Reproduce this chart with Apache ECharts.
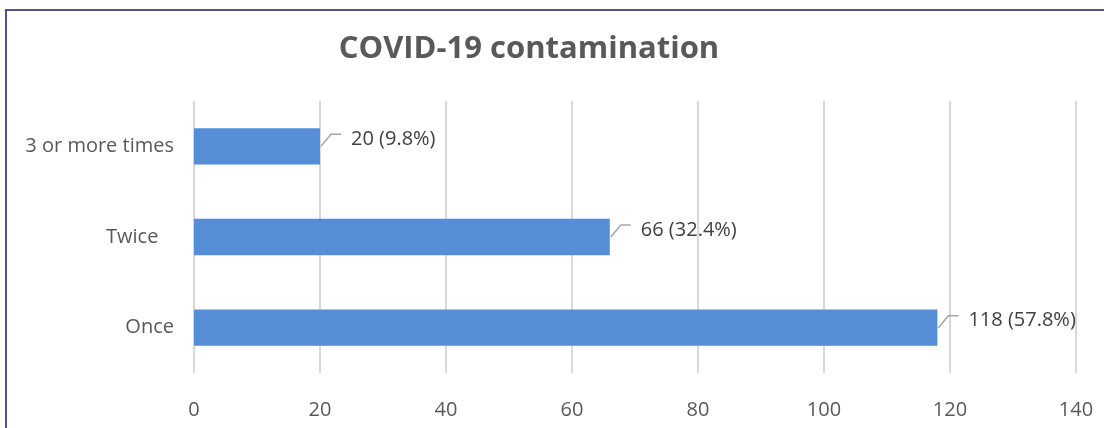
<!DOCTYPE html>
<html>
<head>
<meta charset="utf-8">
<script src="https://cdn.jsdelivr.net/npm/echarts@6/dist/echarts.min.js"></script>
<style>
    body { margin: 0; background: #fff; }
    #wrap { position: relative; width: 1104px; height: 428px; }
    #chart { width: 1104px; height: 428px; }
    .frame {
        position: absolute; left: 5px; top: 9px; right: 0; bottom: 0;
        border-top: 2px solid #54508f; border-left: 2px solid #54508f;
        pointer-events: none;
    }
</style>
</head>
<body>
<div id="wrap">
    <div id="chart"></div>
    <div class="frame"></div>
</div>
<script>
    // categories bottom -> top
    const categories = ['Once', 'Twice   ', '3 or more times']
    const counts = [118, 66, 20]
    const percents = ['57.8%', '32.4%', '9.8%']
    const xTicks = [0, 20, 40, 60, 80, 100, 120, 140]

    let myChart = echarts.init(document.getElementById('chart'))
    myChart.setOption({
        animation: false,
        textStyle: { fontFamily: '"Open Sans", sans-serif' },
        title: {
            text: 'COVID-19 contamination',
            left: 524,
            textAlign: 'center',
            top: 29,
            textStyle: { fontSize: 31, fontWeight: 'bold', color: '#595959' }
        },
        grid: { left: 194, right: 28, top: 101, bottom: 55 },
        xAxis: {
            type: 'value',
            min: xTicks[0],
            max: xTicks[xTicks.length - 1],
            interval: 20,
            axisLine: { show: false },
            axisTick: { show: false },
            axisLabel: { fontSize: 20, color: '#595959', margin: 27 },
            splitLine: { lineStyle: { color: '#d9d9d9', width: 2 } }
        },
        yAxis: {
            type: 'category',
            data: categories,
            axisLine: { show: false },
            axisTick: { show: false },
            axisLabel: { fontSize: 20, color: '#595959', margin: 20 }
        },
        series: [{
            type: 'bar',
            data: counts,
            barCategoryGap: '60%',
            itemStyle: { color: '#558ed5' },
            label: {
                show: true,
                position: 'right',
                distance: 5,
                fontSize: 20,
                color: '#404040',
                formatter: p => p.value + ' (' + percents[p.dataIndex] + ')'
            },
            labelLayout: { dx: 26, dy: -7 }
        }, {
            // leader lines, anchored at the end of each bar
            type: 'custom',
            data: counts.map((v, i) => [v, i]),
            encode: { x: 0, y: 1 },
            z: 3,
            renderItem: (params, api) => {
                const pt = api.coord([api.value(0), api.value(1)])
                return {
                    type: 'polyline',
                    shape: { points: [[pt[0] + 1, pt[1]], [pt[0] + 11, pt[1] - 12], [pt[0] + 21, pt[1] - 12]] },
                    style: { stroke: '#a6a6a6', lineWidth: 1.5, fill: null }
                }
            }
        }]
    })
</script>
</body>
</html>
